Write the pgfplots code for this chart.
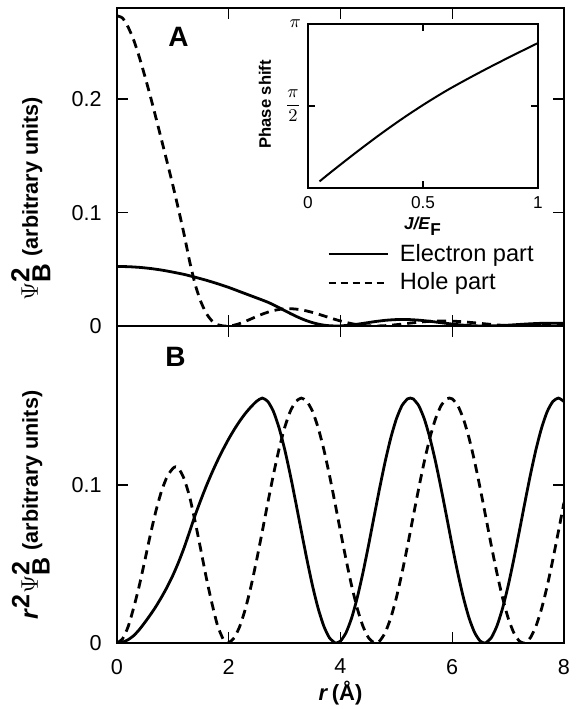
\documentclass[border=0pt]{standalone}
\usepackage{fontspec}
\setmainfont{Liberation Sans}
\usepackage{pgfplots}
\usepackage{pgfplotstable}
\pgfplotsset{compat=1.18}

% r^2 |psi|^2 for the bound state (panel B)
\pgfplotstableread[row sep=\\]{
r v\\
0 0\\ 0.1 0.0005\\ 0.2 0.0021\\ 0.3 0.0047\\ 0.4 0.0085\\ 0.5 0.0131\\ 0.6 0.0180\\ 0.7 0.0233\\
0.8 0.0292\\ 0.9 0.0356\\ 1.0 0.0428\\ 1.1 0.0510\\ 1.2 0.0602\\ 1.3 0.0705\\ 1.4 0.0810\\
1.5 0.0905\\ 1.6 0.0995\\ 1.7 0.1078\\ 1.8 0.1155\\ 1.9 0.1226\\ 2.0 0.1292\\ 2.1 0.1352\\
2.2 0.1406\\ 2.3 0.1454\\ 2.4 0.1495\\ 2.5 0.1530\\ 2.6 0.1550\\ 2.7 0.1528\\ 2.8 0.1465\\
2.9 0.1362\\ 3.0 0.1227\\ 3.1 0.1066\\ 3.2 0.0889\\ 3.3 0.0706\\ 3.4 0.0527\\ 3.5 0.0361\\
3.6 0.0219\\ 3.7 0.0108\\ 3.8 0.0034\\ 3.9 0.0001\\ 3.925 0\\ 4.0 0.0012\\ 4.1 0.0066\\
4.2 0.0159\\ 4.3 0.0287\\ 4.4 0.0442\\ 4.5 0.0615\\ 4.6 0.0798\\ 4.7 0.0979\\ 4.8 0.1149\\
4.9 0.1298\\ 5.0 0.1418\\ 5.1 0.1502\\ 5.2 0.1545\\ 5.25 0.1550\\ 5.3 0.1545\\ 5.4 0.1502\\
5.5 0.1418\\ 5.6 0.1298\\ 5.7 0.1149\\ 5.8 0.0979\\ 5.9 0.0798\\ 6.0 0.0615\\ 6.1 0.0442\\
6.2 0.0287\\ 6.3 0.0159\\ 6.4 0.0066\\ 6.5 0.0012\\ 6.575 0\\ 6.6 0.0001\\ 6.7 0.0034\\
6.8 0.0108\\ 6.9 0.0219\\ 7.0 0.0361\\ 7.1 0.0527\\ 7.2 0.0706\\ 7.3 0.0889\\ 7.4 0.1066\\
7.5 0.1227\\ 7.6 0.1362\\ 7.7 0.1465\\ 7.8 0.1528\\ 7.9 0.1550\\ 8.0 0.1528\\
}\elecB
\pgfplotstableread[row sep=\\]{
r v\\
0 0\\ 0.1 0.0027\\ 0.2 0.0104\\ 0.3 0.0225\\ 0.4 0.0365\\ 0.5 0.0525\\ 0.6 0.0690\\ 0.7 0.0840\\
0.8 0.0965\\ 0.9 0.1055\\ 1.0 0.1105\\ 1.05 0.1115\\ 1.1 0.1108\\ 1.2 0.1040\\ 1.3 0.0925\\
1.4 0.0765\\ 1.5 0.0590\\ 1.6 0.0410\\ 1.7 0.0250\\ 1.8 0.0110\\ 1.9 0.0025\\ 1.975 0\\
2.0 0.0001\\ 2.1 0.0034\\ 2.2 0.0108\\ 2.3 0.0219\\ 2.4 0.0361\\ 2.5 0.0527\\ 2.6 0.0706\\
2.7 0.0889\\ 2.8 0.1066\\ 2.9 0.1227\\ 3.0 0.1362\\ 3.1 0.1465\\ 3.2 0.1528\\ 3.3 0.1550\\
3.4 0.1528\\ 3.5 0.1465\\ 3.6 0.1362\\ 3.7 0.1227\\ 3.8 0.1066\\ 3.9 0.0889\\ 4.0 0.0706\\
4.1 0.0527\\ 4.2 0.0361\\ 4.3 0.0219\\ 4.4 0.0108\\ 4.5 0.0034\\ 4.6 0.0001\\ 4.625 0\\
4.7 0.0012\\ 4.8 0.0066\\ 4.9 0.0159\\ 5.0 0.0287\\ 5.1 0.0442\\ 5.2 0.0615\\ 5.3 0.0798\\
5.4 0.0979\\ 5.5 0.1149\\ 5.6 0.1298\\ 5.7 0.1418\\ 5.8 0.1502\\ 5.9 0.1545\\ 5.95 0.1550\\
6.0 0.1545\\ 6.1 0.1502\\ 6.2 0.1418\\ 6.3 0.1298\\ 6.4 0.1149\\ 6.5 0.0979\\ 6.6 0.0798\\
6.7 0.0615\\ 6.8 0.0442\\ 6.9 0.0287\\ 7.0 0.0159\\ 7.1 0.0066\\ 7.2 0.0012\\ 7.275 0\\
7.3 0.0001\\ 7.4 0.0034\\ 7.5 0.0108\\ 7.6 0.0219\\ 7.7 0.0361\\ 7.8 0.0527\\ 7.9 0.0706\\
8.0 0.0889\\
}\holeB
% |psi|^2 (panel A)
\pgfplotstableread[row sep=\\]{
r v\\
0 0.0525\\ 0.2 0.0523\\ 0.4 0.0517\\ 0.6 0.0507\\ 0.8 0.0493\\ 1.0 0.0475\\ 1.2 0.0455\\
1.4 0.0430\\ 1.6 0.0403\\ 1.8 0.0373\\ 2.0 0.0340\\ 2.2 0.0303\\ 2.4 0.0266\\ 2.6 0.0229\\
2.7 0.02096\\ 2.8 0.01869\\ 2.9 0.01620\\ 3.0 0.01363\\ 3.1 0.01109\\ 3.2 0.00868\\
3.3 0.00648\\ 3.4 0.00456\\ 3.5 0.00295\\ 3.6 0.00169\\ 3.7 0.00079\\ 3.8 0.00024\\
3.925 0\\ 4.0 0.00008\\ 4.2 0.00090\\ 4.4 0.00228\\ 4.6 0.00377\\ 4.8 0.00499\\ 5.0 0.00567\\
5.2 0.00571\\ 5.4 0.00515\\ 5.6 0.00414\\ 5.8 0.00291\\ 6.0 0.00171\\ 6.2 0.00075\\
6.4 0.00016\\ 6.575 0\\ 6.8 0.00023\\ 7.0 0.00074\\ 7.2 0.00136\\ 7.4 0.00195\\
7.6 0.00236\\ 7.8 0.00251\\ 8.0 0.00239\\
}\elecA
\pgfplotstableread[row sep=\\]{
r v\\
0 0.2735\\ 0.1 0.2715\\ 0.2 0.2635\\ 0.3 0.2520\\ 0.4 0.2370\\ 0.5 0.2200\\ 0.6 0.2020\\
0.7 0.1830\\ 0.8 0.1635\\ 0.9 0.1440\\ 1.0 0.1240\\ 1.1 0.1030\\ 1.2 0.0810\\ 1.3 0.0570\\
1.4 0.0365\\ 1.5 0.0215\\ 1.6 0.0110\\ 1.7 0.0045\\ 1.8 0.0012\\ 1.9 0.0001\\ 1.975 0\\
2.1 0.00077\\ 2.2 0.00223\\ 2.3 0.00414\\ 2.4 0.00627\\ 2.5 0.00843\\ 2.6 0.01044\\
2.7 0.01219\\ 2.8 0.01360\\ 2.9 0.01459\\ 3.0 0.01513\\ 3.1 0.01524\\ 3.2 0.01492\\
3.3 0.01423\\ 3.4 0.01322\\ 3.5 0.01196\\ 3.6 0.01051\\ 3.7 0.00896\\ 3.8 0.00738\\
3.9 0.00584\\ 4.0 0.00441\\ 4.1 0.00314\\ 4.2 0.00205\\ 4.3 0.00118\\ 4.4 0.00056\\
4.5 0.00017\\ 4.625 0\\ 4.8 0.00029\\ 5.0 0.00115\\ 5.2 0.00227\\ 5.4 0.00336\\
5.6 0.00414\\ 5.8 0.00446\\ 6.0 0.00429\\ 6.2 0.00369\\ 6.4 0.00281\\ 6.6 0.00183\\
6.8 0.00096\\ 7.0 0.00032\\ 7.2 0.00002\\ 7.275 0\\ 7.4 0.00006\\ 7.6 0.00038\\
7.8 0.00087\\ 8.0 0.00139\\
}\holeA

\pgfplotsset{
  frame/.style={scale only axis, axis line style={line width=0.7pt},
    tick style={line width=0.7pt, black}, tick align=inside,
    /pgf/number format/assume math mode=true},
  elec/.style={black, line width=1.4pt, smooth, tension=0.4},
  hole/.style={black, line width=1.4pt, smooth, tension=0.4, dash pattern=on 4.5pt off 3pt},
}

\begin{document}
\begin{tikzpicture}
\useasboundingbox (0,0) rectangle (289pt,354.5pt);

% ---- panel B : r^2 Psi^2 ----
\begin{axis}[frame, at={(58.5pt,33pt)}, anchor=south west,
  width=223.5pt, height=158.5pt,
  xmin=0, xmax=8, ymin=0, ymax=0.2006,
  xtick={0,2,4,6,8}, ytick={0,0.1},
  major tick length=5.5pt,
  tick label style={font=\fontsize{10.8}{12}\selectfont},
  xticklabel style={yshift=-4.5pt},
  yticklabel style={xshift=-4.2pt},
  xlabel={\textbf{\textit{r}\,(Å)}},
  xlabel style={at={(axis description cs:0.5,-0.158)}, anchor=center,
    font=\fontsize{11}{12}\selectfont},
  ylabel={{\fontsize{12.5}{13}\selectfont\textbf{\textit{r}}$^{\textbf{2}}\Psi_{\textbf{B}}^{\textbf{2}}$} \textbf{(arbitrary units)}},
  ylabel style={at={(axis description cs:-0.193,0.435)}, anchor=center,
    font=\fontsize{10.8}{12}\selectfont},
]
\addplot[elec] table[x=r, y=v] {\elecB};
\addplot[hole] table[x=r, y=v] {\holeB};
\node[font=\fontsize{14}{14}\selectfont\bfseries] at (axis cs:1.045,0.181) {B};
\end{axis}

% ---- panel A : Psi^2 ----
\begin{axis}[frame, at={(58.5pt,191.5pt)}, anchor=south west,
  width=223.5pt, height=159pt,
  xmin=0, xmax=8, ymin=0, ymax=0.2804,
  xtick={2,4,6}, xticklabels={},
  ytick={0,0.1,0.2},
  major tick length=5.5pt,
  tick label style={font=\fontsize{10.8}{12}\selectfont},
  yticklabel style={xshift=-4.2pt},
  ylabel={{\fontsize{13}{14}\selectfont$\Psi_{\textbf{B}}^{\textbf{2}}$} \textbf{(arbitrary units)}},
  ylabel style={at={(axis description cs:-0.193,0.40)}, anchor=center,
    font=\fontsize{10.8}{12}\selectfont},
  legend style={at={(axis description cs:0.47,0.262)}, anchor=north west,
    draw=none, fill=none, inner sep=0pt, row sep=3pt,
    nodes={inner sep=0.6pt},
    font=\fontsize{11.8}{13}\selectfont,
    /tikz/every odd column/.append style={column sep=5pt}},
  legend cell align=left,
  legend image code/.code={\draw[#1, line width=1.1pt] (0pt,0pt) -- (29.5pt,0pt);},
]
\addplot[elec] table[x=r, y=v] {\elecA};
\addlegendentry{Electron part}
\addplot[hole, legend image post style={dash pattern=on 3.6pt off 2.4pt}] table[x=r, y=v] {\holeA};
\addlegendentry{Hole part}
\node[font=\fontsize{14}{14}\selectfont\bfseries] at (axis cs:1.10,0.255) {A};
\end{axis}

% ---- inset : phase shift against J/E_F ----
\begin{axis}[frame, at={(154pt,260.5pt)}, anchor=south west,
  width=115pt, height=82pt,
  axis line style={line width=0.6pt}, tick style={line width=0.6pt},
  xmin=0, xmax=1, ymin=0, ymax=1,
  xtick={0,0.5,1}, xticklabels={0,0.5,1},
  ytick={0.5,1}, yticklabels={${\displaystyle\frac{\pi}{2}}$,$\pi$},
  major tick length=3.5pt,
  tick label style={font=\fontsize{8.6}{10}\selectfont},
  xticklabel style={yshift=-0.8pt},
  xlabel={\textbf{\textit{J/E}}$_{\textbf{F}}$},
  xlabel style={at={(axis description cs:0.5,-0.235)}, anchor=center,
    font=\fontsize{8.6}{10}\selectfont},
  ylabel={\textbf{Phase shift}},
  ylabel style={at={(axis description cs:-0.187,0.51)}, anchor=center,
    font=\fontsize{8.3}{10}\selectfont},
]
\addplot[black, line width=1pt, smooth] coordinates {
(0.05,0.040) (0.1,0.097) (0.2,0.207) (0.3,0.313) (0.4,0.413) (0.5,0.506)
(0.6,0.592) (0.7,0.670) (0.8,0.744) (0.9,0.815) (1.0,0.884)};
\end{axis}
\end{tikzpicture}
\end{document}
